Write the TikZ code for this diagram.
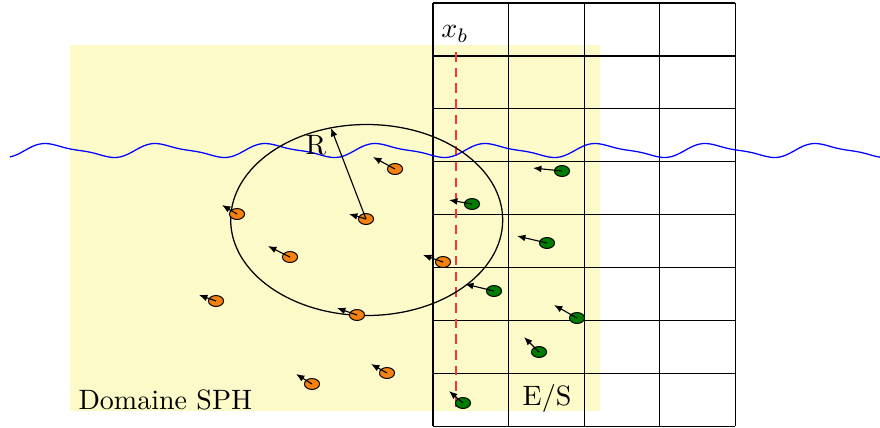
\documentclass[tikz,border=0pt]{standalone}
\usetikzlibrary{shapes.geometric,arrows.meta}
\definecolor{sphyellow}{RGB}{252,250,200}
\definecolor{partorange}{RGB}{245,130,15}
\definecolor{partgreen}{RGB}{0,125,0}
\tikzset{
  pso/.style={ellipse,draw=black,fill=partorange,minimum width=5.4pt,minimum height=3.9pt,inner sep=0pt,line width=0.35pt},
  psg/.style={ellipse,draw=black,fill=partgreen,minimum width=5.4pt,minimum height=3.9pt,inner sep=0pt,line width=0.35pt},
  vec/.style={-{Latex[length=3pt,width=2.4pt]},line width=0.4pt},
  gridline/.style={line width=0.45pt,black},
}
\begin{document}
\begin{tikzpicture}[x=0.357pt,y=-0.357pt]
\useasboundingbox (0,0) rectangle (880,427);
% SPH domain
\fill[sphyellow] (70,45) rectangle (600,411);
% grid
\foreach \yy in {3,55.9,108.8,161.7,214.6,267.5,320.4,373.3,426.2}
  \draw[gridline] (433,\yy) -- (735.4,\yy);
\foreach \xx in {433,508.6,584.2,659.8,735.4}
  \draw[gridline] (\xx,3) -- (\xx,426.2);
% boundary line
\draw[red!80,dash pattern=on 3.4pt off 2.2pt,line width=0.4pt] (456,52) -- (456,411);
\node (xb) at (455,34) {$x_b$};
% free surface
\draw[blue,line width=0.45pt] plot[domain=10:880,samples=300,smooth]
  (\x,{150.5-6.16*(sin(3.2727*(\x-45)+66.2)+0.3*sin(2*(3.2727*(\x-45)+66.2)))});
% kernel support
\draw[line width=0.45pt] (366.7,220) ellipse [x radius=136,y radius=95.5];
% orange particles
\node[pso] (o1) at (395,169) {};
\node[pso] (o2) at (366,219) {};
\node[pso] (o3) at (237,214) {};
\node[pso] (o4) at (290,257) {};
\node[pso] (o5) at (216,301) {};
\node[pso] (o6) at (443,262) {};
\node[pso] (o7) at (357,315) {};
\node[pso] (o8) at (312,384) {};
\node[pso] (o9) at (387,373) {};
% green particles
\node[psg] (g1) at (562,171) {};
\node[psg] (g2) at (472,204) {};
\node[psg] (g3) at (547,243) {};
\node[psg] (g4) at (494,291) {};
\node[psg] (g5) at (577,318) {};
\node[psg] (g6) at (539,352) {};
\node[psg] (g7) at (463,403) {};
% velocity tips
\coordinate (to1) at (373,157);
\coordinate (to2) at (349,214);
\coordinate (to3) at (222,205);
\coordinate (to4) at (268,246);
\coordinate (to5) at (199,295);
\coordinate (to6) at (423,255);
\coordinate (to7) at (337,308);
\coordinate (to8) at (296,374);
\coordinate (to9) at (371,364);
\coordinate (tg1) at (533,168);
\coordinate (tg2) at (449,200);
\coordinate (tg3) at (517,236);
\coordinate (tg4) at (465,284);
\coordinate (tg5) at (554,305);
\coordinate (tg6) at (524,337);
\coordinate (tg7) at (449,391);
\foreach \p in {o1,o2,o3,o4,o5,o6,o7,o8,o9}
  \draw[vec] (\p.center) -- (t\p);
\foreach \p in {g1,g2,g3,g4,g5,g6,g7}
  \draw[vec] (\p.center) -- (t\p);
% radius
\coordinate (rtip) at (331,128);
\draw[vec] (o2.center) -- (rtip);
\node (R) at (316,145) {R};
% labels
\node[anchor=base west,inner sep=0pt] (dom) at (78,409) {Domaine SPH};
\node (es) at (547,398) {E/S};
\end{tikzpicture}
\end{document}
